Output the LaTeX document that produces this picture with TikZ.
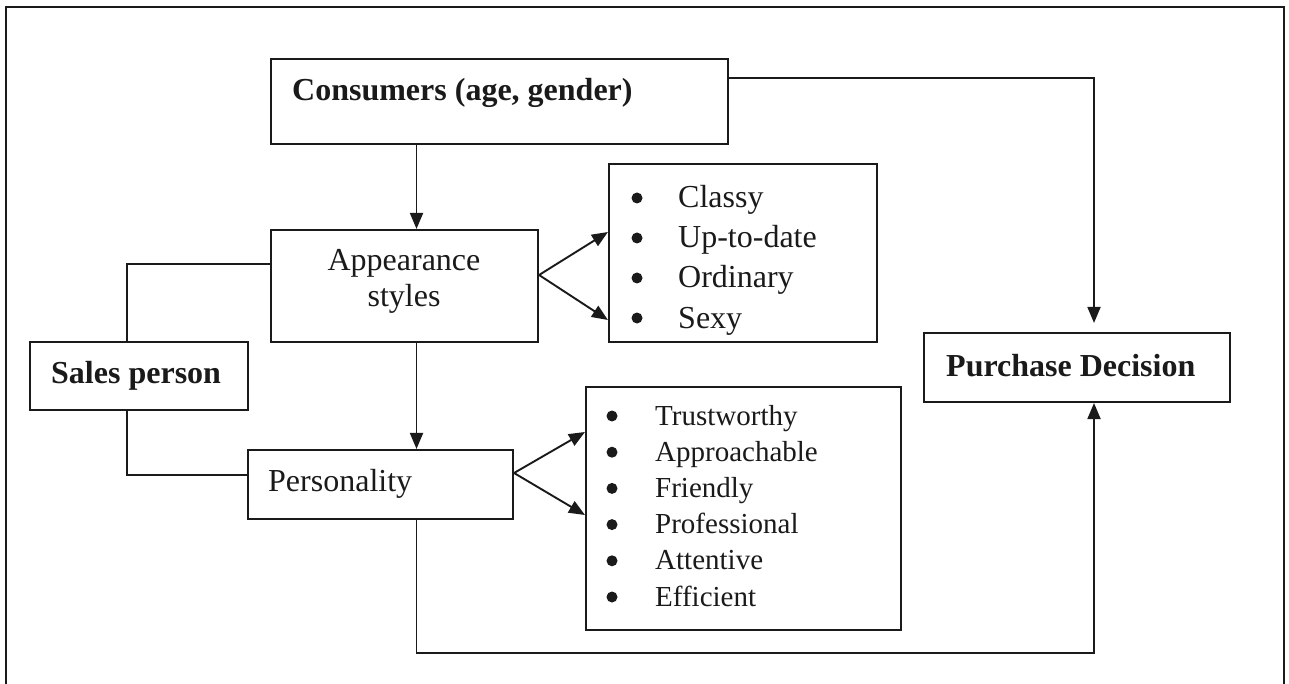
\documentclass[tikz,border=0pt]{standalone}
\usepackage{fontspec}
\setmainfont{Liberation Serif}
\usetikzlibrary{arrows.meta}
\definecolor{ink}{HTML}{1A1A1A}
\begin{document}
\begin{tikzpicture}[x=1pt,y=-1pt,
  box/.style={draw=ink, line width=2.1pt, inner sep=0pt, rectangle},
  link/.style={draw=ink, line width=1.9pt},
  arr/.style={link, -{Triangle[length=16pt,width=13pt]}},
  lbl/.style={text=ink, font=\fontsize{32}{38}\selectfont, inner sep=0pt},
  blbl/.style={lbl, font=\fontsize{32}{38}\selectfont\bfseries},
  item/.style={text=ink, font=\fontsize{32}{38}\selectfont, inner sep=0pt, anchor=base west},
  sitem/.style={text=ink, font=\fontsize{29}{35}\selectfont, inner sep=0pt, anchor=base west},
  dot/.style={circle, fill=ink, inner sep=0pt, minimum size=11pt}]
\useasboundingbox (0,0) rectangle (1289,684);
\fill[white] (0,0) rectangle (1289,684);

% outer frame, open at the lower edge
\draw[ink, line width=1.8pt] (6,684) -- (6,7) -- (1284,7) -- (1284,684);

% boxes
\node[box, minimum width=457pt, minimum height=85pt] (cons) at (499.5,101.5) {};
\node[box, minimum width=267pt, minimum height=112pt] (app) at (404.5,286) {};
\node[box, minimum width=268pt, minimum height=178pt] (look) at (743,253) {};
\node[box, minimum width=218pt, minimum height=68pt] (sales) at (139,376) {};
\node[box, minimum width=265pt, minimum height=69pt] (pers) at (380.5,484.5) {};
\node[box, minimum width=315pt, minimum height=243pt] (traits) at (743.5,508.5) {};
\node[box, minimum width=306pt, minimum height=69pt] (purch) at (1077,367.5) {};

% box texts
\node[blbl, anchor=base west] (tcons) at (292,101) {Consumers (age, gender)};
\node[lbl, anchor=base] (tapp1) at (404,271) {Appearance};
\node[lbl, anchor=base] (tapp2) at (404,307) {styles};
\node[blbl, anchor=base west] (tsales) at (51,383) {Sales person};
\node[lbl, anchor=base west] (tpers) at (268,491) {Personality};
\node[blbl, anchor=base west] (tpurch) at (946,376) {Purchase Decision};

% appearance styles
\foreach \t [count=\i] in {Classy, Up-to-date, Ordinary, Sexy} {
  \node[item] (ls\i) at (678,168+40*\i) {\t};
  \node[dot] (lb\i) at (637,158+40*\i) {};
}
% personality traits
\foreach \t [count=\i] in {Trustworthy, Approachable, Friendly, Professional, Attentive, Efficient} {
  \node[sitem] (ts\i) at (655,388.8+36.2*\i) {\t};
  \node[dot] (tb\i) at (612,379.8+36.2*\i) {};
}

% guide columns for the vertical connectors
\coordinate (xa) at (416.5,0);
\coordinate (xs) at (127,0);
\coordinate (xr) at (1094,0);

% connectors
\draw[arr] (cons.south -| xa) -- (app.north -| xa);
\draw[arr] (app.south -| xa) -- (pers.north -| xa);
\draw[arr, shorten >=9pt] ([yshift=-20pt]cons.north east) -| (purch.north -| xr);
\draw[arr] (pers.south -| xa) -- ++(0,133) -| (purch.south -| xr);
\draw[link] (sales.north -| xs) |- ([yshift=22pt]app.west);
\draw[link] (sales.south -| xs) |- ([yshift=9.5pt]pers.west);
\draw[arr] ([yshift=11pt]app.east) -- ([yshift=21pt]look.west);
\draw[arr] ([yshift=11pt]app.east) -- ([yshift=-67pt]look.west);
\draw[arr] ([yshift=11.5pt]pers.east) -- ([yshift=76.5pt]traits.west);
\draw[arr] ([yshift=11.5pt]pers.east) -- ([yshift=-6.5pt]traits.west);
\end{tikzpicture}
\end{document}
